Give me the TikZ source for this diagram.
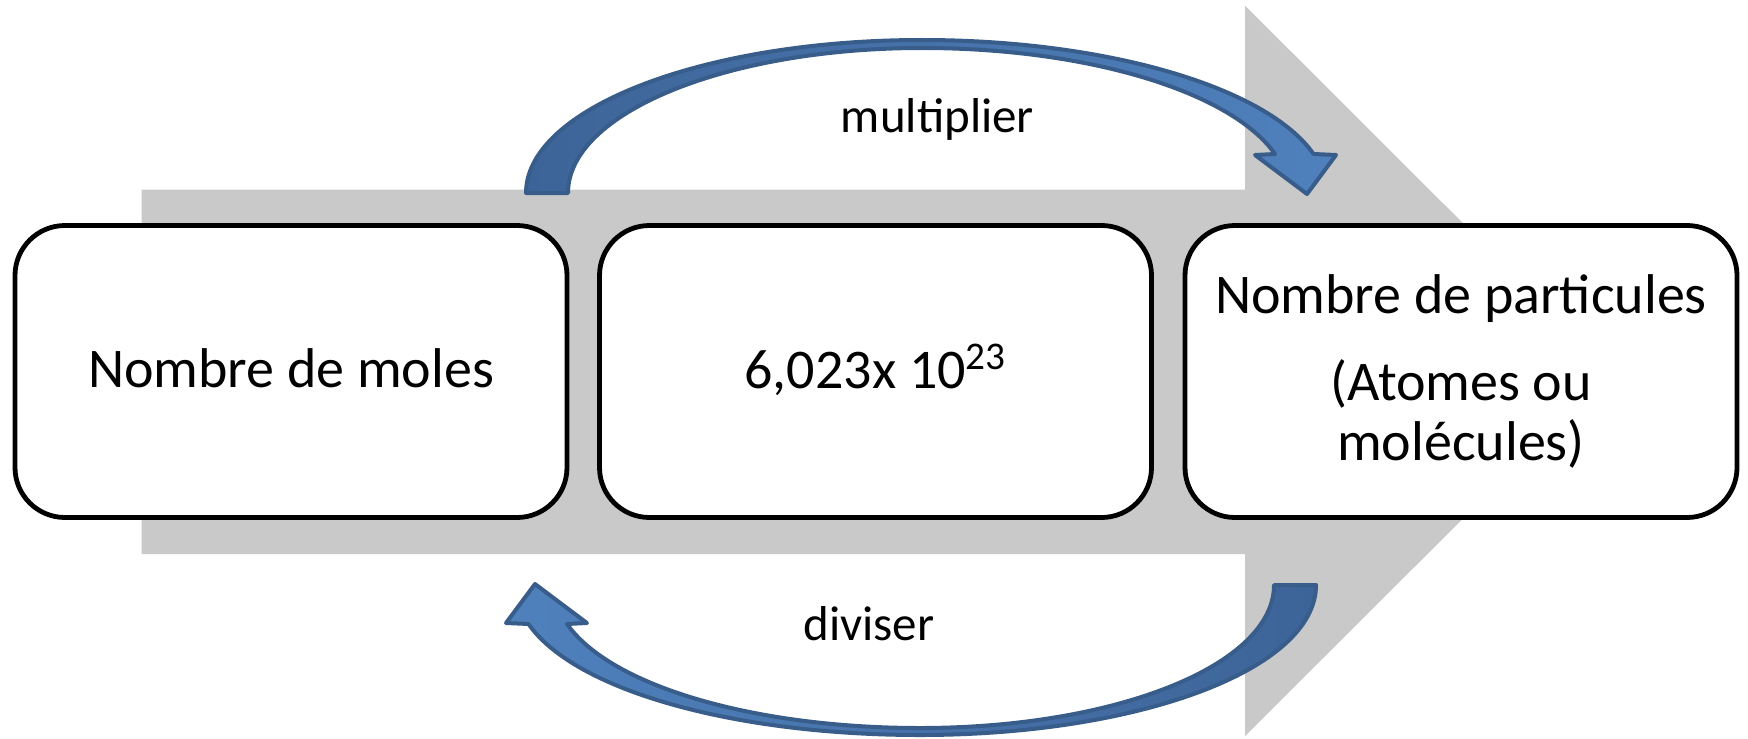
\documentclass[tikz,border=0pt]{standalone}
\usepackage{fontspec}
\setmainfont{Carlito}
\definecolor{arrowgray}{HTML}{C9C9C9}
\definecolor{bluedark}{HTML}{3D6498}
\definecolor{bluelight}{HTML}{4F81BD}
\definecolor{blueline}{HTML}{385D8A}
\begin{document}
\begin{tikzpicture}[x=0.5pt,y=-0.5pt,
  box/.style={draw=black, line width=2.4pt, fill=white, rounded corners=25pt,
    minimum width=276pt, minimum height=146pt, inner sep=0pt},
  bigtext/.style={font=\fontsize{28pt}{33pt}\selectfont, inner sep=0pt, anchor=base},
  labeltext/.style={font=\fontsize{24.5pt}{29pt}\selectfont, inner sep=0pt, anchor=base},
  curvedarrow/.style={draw=blueline, line width=2pt, line join=round}]
\useasboundingbox (0,0) rectangle (1748,738);
% big gray arrow
\fill[arrowgray] (141.6,189.5) -- (1245,189.5) -- (1245,5.6) -- (1611,371)
  -- (1245,736) -- (1245,554) -- (141.6,554) -- cycle;
% top curved arrow (multiplier)
\path[curvedarrow, left color=bluedark, right color=bluelight]
  (526,193) .. controls (526,108.5) and (703.3,40) .. (922,40)
  .. controls (1105.8,40) and (1266.6,86.8) .. (1313.5,154)
  -- (1336,155) -- (1307,194) -- (1255,155) -- (1275,154)
  .. controls (1230.8,91.3) and (1086.5,48) .. (922,48)
  .. controls (726.5,48) and (568,112.9) .. (568,193) -- cycle;
% bottom curved arrow (diviser)
\path[curvedarrow, left color=bluelight, right color=bluedark]
  (1316,585) .. controls (1316,669.5) and (1138.7,735) .. (920,735)
  .. controls (736.2,735) and (575.4,691.2) .. (528.5,624)
  -- (506,623) -- (535,584) -- (587,623) -- (567,624)
  .. controls (611.2,686.7) and (755.5,728) .. (920,728)
  .. controls (1115.5,728) and (1274,665.1) .. (1274,585) -- cycle;
% boxes
\node[box] (moles) at (291,371.5) {};
\node[box] (avogadro) at (875.5,371.5) {};
\node[box] (particules) at (1461,371.5) {};
% texts
\node[bigtext] (tmoles) at (291,387) {Nombre de moles};
\node[bigtext] (tavo) at (875.5,388) {6,023x 10\textsuperscript{23}};
\node[bigtext] (tpart1) at (1461,313) {Nombre de particules};
\node[bigtext] (tpart2) at (1461,400) {(Atomes ou};
\node[bigtext] (tpart3) at (1461,460) {molécules)};
\node[labeltext] (mult) at (937.5,133) {multiplier};
\node[labeltext] (div) at (869,640) {diviser};
\end{tikzpicture}
\end{document}
